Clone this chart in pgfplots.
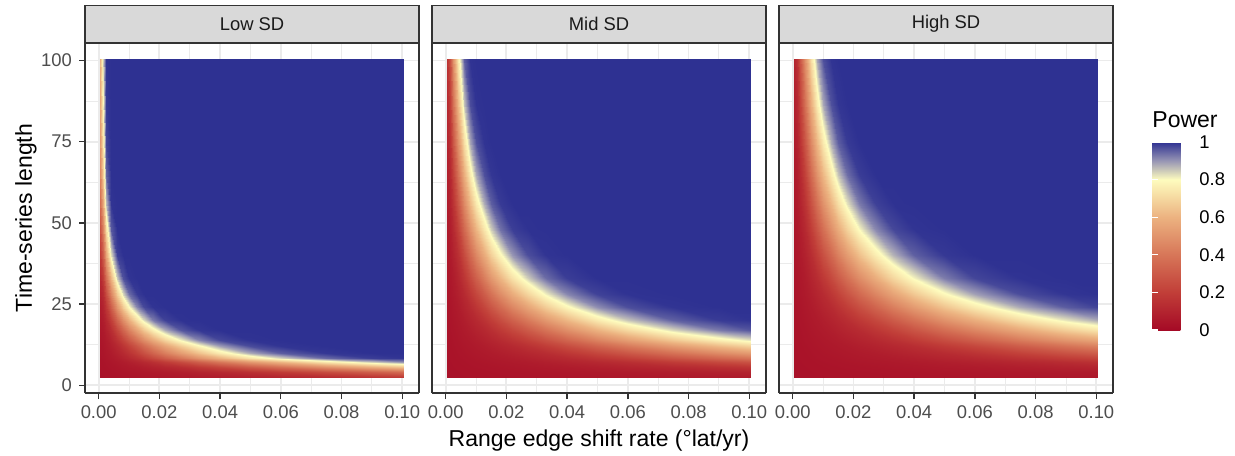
\documentclass[border=0pt]{standalone}
\usepackage{fontspec}
\setmainfont{Liberation Sans}
\usepackage{pgfplots}
\usepackage{pgfplotstable}
\pgfplotsset{compat=1.18}

\definecolor{grey10}{HTML}{1A1A1A}
\definecolor{grey20}{HTML}{333333}
\definecolor{grey30}{HTML}{4D4D4D}
\definecolor{grey85}{HTML}{D9D9D9}
\definecolor{grey92}{HTML}{EBEBEB}

\pgfplotsset{
  colormap={powermap}{rgb255(0cm)=(165,10,38) rgb255(2cm)=(193,62,56) rgb255(4cm)=(215,118,88)
    rgb255(6cm)=(236,178,128) rgb255(8cm)=(254,252,190) rgb255(9cm)=(152,150,180) rgb255(10cm)=(46,49,146)},
  /pgf/number format/assume math mode=true,
  panelbox/.style={
    at={#1}, anchor=south west,
    scale only axis, width=167pt, height=175pt,
    xmin=-0.0045, xmax=0.1055, ymin=-2.4, ymax=105.4,
    xtick={0,0.02,0.04,0.06,0.08,0.1},
    ytick={0,25,50,75,100},
  },
  % background panel: only the grid
  gridpanel/.style={
    panelbox={#1},
    minor xtick={0.01,0.03,0.05,0.07,0.09},
    minor ytick={12.5,37.5,62.5,87.5},
    xmajorgrids, ymajorgrids, xminorgrids, yminorgrids,
    major grid style={grey92, line width=0.9pt},
    minor grid style={grey92, line width=0.45pt},
    axis line style={draw=none}, tick style={draw=none},
    major tick length=0pt, minor tick length=0pt,
    xticklabels={}, yticklabels={},
  },
  % foreground panel: heat map, border, ticks and strip
  heatpanel/.style={
    panelbox={#1},
    view={0}{90}, zmin=0, zmax=1, ztick=\empty,
    point meta min=0, point meta max=1,
    colormap name=powermap,
    axis line style={grey20, line width=0.65pt},
    tick align=outside,
    major tick length=3pt,
    major tick style={grey20, line width=0.65pt},
    xtick pos=left, ytick pos=left,
    tick label style={font=\fontsize{9.2}{11}\selectfont, text=grey30},
    xticklabel style={/pgf/number format/fixed, /pgf/number format/fixed zerofill,
      /pgf/number format/precision=2},
    every axis title/.style={at={(axis description cs:0.5,1)}, anchor=south, fill=grey85, draw=grey20,
      line width=0.65pt, minimum width=167pt, minimum height=18.5pt, inner sep=0pt,
      font=\fontsize{9.2}{11}\selectfont, text=grey10},
  },
  heat/.style={surf, shader=interp, mesh/cols=19, point meta=\thisrow{p}},
}

% power on a grid of shift rate (x) by series length (y)
\pgfplotstableread[row sep=\\]{
x y p\\
0.0005 2.5 0.031\\ 0.0015 2.5 0.032\\ 0.0025 2.5 0.033\\ 0.004 2.5 0.034\\ 0.006 2.5 0.036\\ 0.008 2.5 0.038\\ 0.01 2.5 0.041\\ 0.0125 2.5 0.043\\ 0.015 2.5 0.046\\ 0.018 2.5 0.049\\ 0.022 2.5 0.053\\ 0.027 2.5 0.059\\ 0.033 2.5 0.065\\ 0.04 2.5 0.074\\ 0.05 2.5 0.089\\ 0.06 2.5 0.106\\ 0.075 2.5 0.129\\ 0.09 2.5 0.165\\ 0.1005 2.5 0.189\\
0.0005 4 0.032\\ 0.0015 4 0.033\\ 0.0025 4 0.034\\ 0.004 4 0.037\\ 0.006 4 0.041\\ 0.008 4 0.044\\ 0.01 4 0.048\\ 0.0125 4 0.052\\ 0.015 4 0.056\\ 0.018 4 0.062\\ 0.022 4 0.069\\ 0.027 4 0.081\\ 0.033 4 0.097\\ 0.04 4 0.116\\ 0.05 4 0.147\\ 0.06 4 0.187\\ 0.075 4 0.249\\ 0.09 4 0.315\\ 0.1005 4 0.359\\
0.0005 5.5 0.033\\ 0.0015 5.5 0.035\\ 0.0025 5.5 0.038\\ 0.004 5.5 0.042\\ 0.006 5.5 0.048\\ 0.008 5.5 0.055\\ 0.01 5.5 0.061\\ 0.0125 5.5 0.068\\ 0.015 5.5 0.079\\ 0.018 5.5 0.093\\ 0.022 5.5 0.111\\ 0.027 5.5 0.136\\ 0.033 5.5 0.178\\ 0.04 5.5 0.227\\ 0.05 5.5 0.304\\ 0.06 5.5 0.38\\ 0.075 5.5 0.488\\ 0.09 5.5 0.583\\ 0.1005 5.5 0.644\\
0.0005 7 0.035\\ 0.0015 7 0.037\\ 0.0025 7 0.042\\ 0.004 7 0.049\\ 0.006 7 0.059\\ 0.008 7 0.068\\ 0.01 7 0.082\\ 0.0125 7 0.10\\ 0.015 7 0.118\\ 0.018 7 0.144\\ 0.022 7 0.187\\ 0.027 7 0.244\\ 0.033 7 0.316\\ 0.04 7 0.40\\ 0.05 7 0.51\\ 0.06 7 0.605\\ 0.075 7 0.74\\ 0.09 7 0.843\\ 0.1005 7 0.90\\
0.0005 8.5 0.037\\ 0.0015 8.5 0.041\\ 0.0025 8.5 0.048\\ 0.004 8.5 0.058\\ 0.006 8.5 0.074\\ 0.008 8.5 0.095\\ 0.01 8.5 0.117\\ 0.0125 8.5 0.15\\ 0.015 8.5 0.19\\ 0.018 8.5 0.24\\ 0.022 8.5 0.311\\ 0.027 8.5 0.40\\ 0.033 8.5 0.498\\ 0.04 8.5 0.599\\ 0.05 8.5 0.733\\ 0.06 8.5 0.837\\ 0.075 8.5 0.944\\ 0.09 8.5 0.988\\ 0.1005 8.5 0.996\\
0.0005 10 0.039\\ 0.0015 10 0.044\\ 0.0025 10 0.053\\ 0.004 10 0.067\\ 0.006 10 0.093\\ 0.008 10 0.121\\ 0.01 10 0.158\\ 0.0125 10 0.21\\ 0.015 10 0.266\\ 0.018 10 0.336\\ 0.022 10 0.427\\ 0.027 10 0.529\\ 0.033 10 0.64\\ 0.04 10 0.754\\ 0.05 10 0.88\\ 0.06 10 0.956\\ 0.075 10 0.994\\ 0.09 10 1\\ 0.1005 10 1\\
0.0005 12 0.042\\ 0.0015 12 0.048\\ 0.0025 12 0.06\\ 0.004 12 0.081\\ 0.006 12 0.116\\ 0.008 12 0.162\\ 0.01 12 0.215\\ 0.0125 12 0.289\\ 0.015 12 0.362\\ 0.018 12 0.448\\ 0.022 12 0.549\\ 0.027 12 0.667\\ 0.033 12 0.784\\ 0.04 12 0.891\\ 0.05 12 0.973\\ 0.06 12 0.996\\ 0.075 12 1\\ 0.09 12 1\\ 0.1005 12 1\\
0.0005 14 0.045\\ 0.0015 14 0.053\\ 0.0025 14 0.068\\ 0.004 14 0.10\\ 0.006 14 0.154\\ 0.008 14 0.222\\ 0.01 14 0.297\\ 0.0125 14 0.392\\ 0.015 14 0.48\\ 0.018 14 0.574\\ 0.022 14 0.691\\ 0.027 14 0.81\\ 0.033 14 0.916\\ 0.04 14 0.978\\ 0.05 14 0.998\\ 0.06 14 1\\ 0.075 14 1\\ 0.09 14 1\\ 0.1005 14 1\\
0.0005 17 0.051\\ 0.0015 17 0.061\\ 0.0025 17 0.089\\ 0.004 17 0.139\\ 0.006 17 0.235\\ 0.008 17 0.34\\ 0.01 17 0.442\\ 0.0125 17 0.555\\ 0.015 17 0.66\\ 0.018 17 0.767\\ 0.022 17 0.879\\ 0.027 17 0.963\\ 0.033 17 0.994\\ 0.04 17 1\\ 0.05 17 1\\ 0.06 17 1\\ 0.075 17 1\\ 0.09 17 1\\ 0.1005 17 1\\
0.0005 20 0.058\\ 0.0015 20 0.074\\ 0.0025 20 0.116\\ 0.004 20 0.205\\ 0.006 20 0.346\\ 0.008 20 0.481\\ 0.01 20 0.598\\ 0.0125 20 0.731\\ 0.015 20 0.835\\ 0.018 20 0.927\\ 0.022 20 0.984\\ 0.027 20 0.999\\ 0.033 20 1\\ 0.04 20 1\\ 0.05 20 1\\ 0.06 20 1\\ 0.075 20 1\\ 0.09 20 1\\ 0.1005 20 1\\
0.0005 24 0.07\\ 0.0015 24 0.10\\ 0.0025 24 0.174\\ 0.004 24 0.319\\ 0.006 24 0.509\\ 0.008 24 0.669\\ 0.01 24 0.799\\ 0.0125 24 0.917\\ 0.015 24 0.977\\ 0.018 24 0.997\\ 0.022 24 1\\ 0.027 24 1\\ 0.033 24 1\\ 0.04 24 1\\ 0.05 24 1\\ 0.06 24 1\\ 0.075 24 1\\ 0.09 24 1\\ 0.1005 24 1\\
0.0005 28 0.09\\ 0.0015 28 0.13\\ 0.0025 28 0.253\\ 0.004 28 0.449\\ 0.006 28 0.669\\ 0.008 28 0.836\\ 0.01 28 0.943\\ 0.0125 28 0.991\\ 0.015 28 1\\ 0.018 28 1\\ 0.022 28 1\\ 0.027 28 1\\ 0.033 28 1\\ 0.04 28 1\\ 0.05 28 1\\ 0.06 28 1\\ 0.075 28 1\\ 0.09 28 1\\ 0.1005 28 1\\
0.0005 33 0.119\\ 0.0015 33 0.195\\ 0.0025 33 0.374\\ 0.004 33 0.612\\ 0.006 33 0.85\\ 0.008 33 0.969\\ 0.01 33 0.997\\ 0.0125 33 1\\ 0.015 33 1\\ 0.018 33 1\\ 0.022 33 1\\ 0.027 33 1\\ 0.033 33 1\\ 0.04 33 1\\ 0.05 33 1\\ 0.06 33 1\\ 0.075 33 1\\ 0.09 33 1\\ 0.1005 33 1\\
0.0005 40 0.187\\ 0.0015 40 0.315\\ 0.0025 40 0.556\\ 0.004 40 0.829\\ 0.006 40 0.986\\ 0.008 40 1\\ 0.01 40 1\\ 0.0125 40 1\\ 0.015 40 1\\ 0.018 40 1\\ 0.022 40 1\\ 0.027 40 1\\ 0.033 40 1\\ 0.04 40 1\\ 0.05 40 1\\ 0.06 40 1\\ 0.075 40 1\\ 0.09 40 1\\ 0.1005 40 1\\
0.0005 48 0.271\\ 0.0015 48 0.444\\ 0.0025 48 0.724\\ 0.004 48 0.96\\ 0.006 48 1\\ 0.008 48 1\\ 0.01 48 1\\ 0.0125 48 1\\ 0.015 48 1\\ 0.018 48 1\\ 0.022 48 1\\ 0.027 48 1\\ 0.033 48 1\\ 0.04 48 1\\ 0.05 48 1\\ 0.06 48 1\\ 0.075 48 1\\ 0.09 48 1\\ 0.1005 48 1\\
0.0005 56 0.369\\ 0.0015 56 0.568\\ 0.0025 56 0.865\\ 0.004 56 0.997\\ 0.006 56 1\\ 0.008 56 1\\ 0.01 56 1\\ 0.0125 56 1\\ 0.015 56 1\\ 0.018 56 1\\ 0.022 56 1\\ 0.027 56 1\\ 0.033 56 1\\ 0.04 56 1\\ 0.05 56 1\\ 0.06 56 1\\ 0.075 56 1\\ 0.09 56 1\\ 0.1005 56 1\\
0.0005 65 0.457\\ 0.0015 65 0.678\\ 0.0025 65 0.948\\ 0.004 65 1\\ 0.006 65 1\\ 0.008 65 1\\ 0.01 65 1\\ 0.0125 65 1\\ 0.015 65 1\\ 0.018 65 1\\ 0.022 65 1\\ 0.027 65 1\\ 0.033 65 1\\ 0.04 65 1\\ 0.05 65 1\\ 0.06 65 1\\ 0.075 65 1\\ 0.09 65 1\\ 0.1005 65 1\\
0.0005 75 0.515\\ 0.0015 75 0.745\\ 0.0025 75 0.979\\ 0.004 75 1\\ 0.006 75 1\\ 0.008 75 1\\ 0.01 75 1\\ 0.0125 75 1\\ 0.015 75 1\\ 0.018 75 1\\ 0.022 75 1\\ 0.027 75 1\\ 0.033 75 1\\ 0.04 75 1\\ 0.05 75 1\\ 0.06 75 1\\ 0.075 75 1\\ 0.09 75 1\\ 0.1005 75 1\\
0.0005 87 0.563\\ 0.0015 87 0.80\\ 0.0025 87 0.991\\ 0.004 87 1\\ 0.006 87 1\\ 0.008 87 1\\ 0.01 87 1\\ 0.0125 87 1\\ 0.015 87 1\\ 0.018 87 1\\ 0.022 87 1\\ 0.027 87 1\\ 0.033 87 1\\ 0.04 87 1\\ 0.05 87 1\\ 0.06 87 1\\ 0.075 87 1\\ 0.09 87 1\\ 0.1005 87 1\\
0.0005 100.5 0.601\\ 0.0015 100.5 0.839\\ 0.0025 100.5 0.997\\ 0.004 100.5 1\\ 0.006 100.5 1\\ 0.008 100.5 1\\ 0.01 100.5 1\\ 0.0125 100.5 1\\ 0.015 100.5 1\\ 0.018 100.5 1\\ 0.022 100.5 1\\ 0.027 100.5 1\\ 0.033 100.5 1\\ 0.04 100.5 1\\ 0.05 100.5 1\\ 0.06 100.5 1\\ 0.075 100.5 1\\ 0.09 100.5 1\\ 0.1005 100.5 1\\
}\lowsd

\pgfplotstableread[row sep=\\]{
x y p\\
0.0005 2.5 0.03\\ 0.0015 2.5 0.031\\ 0.0025 2.5 0.031\\ 0.004 2.5 0.031\\ 0.006 2.5 0.032\\ 0.008 2.5 0.033\\ 0.01 2.5 0.034\\ 0.0125 2.5 0.035\\ 0.015 2.5 0.036\\ 0.018 2.5 0.037\\ 0.022 2.5 0.038\\ 0.027 2.5 0.04\\ 0.033 2.5 0.042\\ 0.04 2.5 0.045\\ 0.05 2.5 0.049\\ 0.06 2.5 0.052\\ 0.075 2.5 0.058\\ 0.09 2.5 0.064\\ 0.1005 2.5 0.067\\
0.0005 4 0.031\\ 0.0015 4 0.031\\ 0.0025 4 0.031\\ 0.004 4 0.032\\ 0.006 4 0.034\\ 0.008 4 0.035\\ 0.01 4 0.036\\ 0.0125 4 0.037\\ 0.015 4 0.039\\ 0.018 4 0.041\\ 0.022 4 0.043\\ 0.027 4 0.046\\ 0.033 4 0.049\\ 0.04 4 0.053\\ 0.05 4 0.059\\ 0.06 4 0.065\\ 0.075 4 0.076\\ 0.09 4 0.089\\ 0.1005 4 0.098\\
0.0005 5.5 0.031\\ 0.0015 5.5 0.031\\ 0.0025 5.5 0.032\\ 0.004 5.5 0.034\\ 0.006 5.5 0.036\\ 0.008 5.5 0.038\\ 0.01 5.5 0.04\\ 0.0125 5.5 0.042\\ 0.015 5.5 0.044\\ 0.018 5.5 0.047\\ 0.022 5.5 0.051\\ 0.027 5.5 0.056\\ 0.033 5.5 0.062\\ 0.04 5.5 0.069\\ 0.05 5.5 0.082\\ 0.06 5.5 0.097\\ 0.075 5.5 0.119\\ 0.09 5.5 0.145\\ 0.1005 5.5 0.167\\
0.0005 7 0.031\\ 0.0015 7 0.032\\ 0.0025 7 0.034\\ 0.004 7 0.036\\ 0.006 7 0.038\\ 0.008 7 0.041\\ 0.01 7 0.044\\ 0.0125 7 0.048\\ 0.015 7 0.051\\ 0.018 7 0.055\\ 0.022 7 0.061\\ 0.027 7 0.068\\ 0.033 7 0.08\\ 0.04 7 0.095\\ 0.05 7 0.116\\ 0.06 7 0.14\\ 0.075 7 0.188\\ 0.09 7 0.237\\ 0.1005 7 0.272\\
0.0005 8.5 0.032\\ 0.0015 8.5 0.033\\ 0.0025 8.5 0.035\\ 0.004 8.5 0.038\\ 0.006 8.5 0.041\\ 0.008 8.5 0.045\\ 0.01 8.5 0.049\\ 0.0125 8.5 0.054\\ 0.015 8.5 0.059\\ 0.018 8.5 0.064\\ 0.022 8.5 0.073\\ 0.027 8.5 0.087\\ 0.033 8.5 0.105\\ 0.04 8.5 0.125\\ 0.05 8.5 0.165\\ 0.06 8.5 0.208\\ 0.075 8.5 0.279\\ 0.09 8.5 0.35\\ 0.1005 8.5 0.398\\
0.0005 10 0.032\\ 0.0015 10 0.034\\ 0.0025 10 0.036\\ 0.004 10 0.04\\ 0.006 10 0.045\\ 0.008 10 0.05\\ 0.01 10 0.055\\ 0.0125 10 0.061\\ 0.015 10 0.067\\ 0.018 10 0.077\\ 0.022 10 0.091\\ 0.027 10 0.11\\ 0.033 10 0.133\\ 0.04 10 0.172\\ 0.05 10 0.229\\ 0.06 10 0.29\\ 0.075 10 0.383\\ 0.09 10 0.47\\ 0.1005 10 0.524\\
0.0005 12 0.033\\ 0.0015 12 0.035\\ 0.0025 12 0.038\\ 0.004 12 0.043\\ 0.006 12 0.05\\ 0.008 12 0.056\\ 0.01 12 0.063\\ 0.0125 12 0.072\\ 0.015 12 0.084\\ 0.018 12 0.099\\ 0.022 12 0.118\\ 0.027 12 0.15\\ 0.033 12 0.194\\ 0.04 12 0.249\\ 0.05 12 0.331\\ 0.06 12 0.413\\ 0.075 12 0.523\\ 0.09 12 0.621\\ 0.1005 12 0.685\\
0.0005 14 0.034\\ 0.0015 14 0.036\\ 0.0025 14 0.04\\ 0.004 14 0.047\\ 0.006 14 0.055\\ 0.008 14 0.063\\ 0.01 14 0.073\\ 0.0125 14 0.088\\ 0.015 14 0.104\\ 0.018 14 0.125\\ 0.022 14 0.157\\ 0.027 14 0.204\\ 0.033 14 0.265\\ 0.04 14 0.339\\ 0.05 14 0.441\\ 0.06 14 0.533\\ 0.075 14 0.658\\ 0.09 14 0.765\\ 0.1005 14 0.826\\
0.0005 17 0.036\\ 0.0015 17 0.039\\ 0.0025 17 0.044\\ 0.004 17 0.053\\ 0.006 17 0.064\\ 0.008 17 0.078\\ 0.01 17 0.095\\ 0.0125 17 0.116\\ 0.015 17 0.142\\ 0.018 17 0.18\\ 0.022 17 0.232\\ 0.027 17 0.303\\ 0.033 17 0.389\\ 0.04 17 0.481\\ 0.05 17 0.598\\ 0.06 17 0.706\\ 0.075 17 0.835\\ 0.09 17 0.927\\ 0.1005 17 0.963\\
0.0005 20 0.037\\ 0.0015 20 0.041\\ 0.0025 20 0.048\\ 0.004 20 0.059\\ 0.006 20 0.076\\ 0.008 20 0.098\\ 0.01 20 0.12\\ 0.0125 20 0.156\\ 0.015 20 0.197\\ 0.018 20 0.25\\ 0.022 20 0.323\\ 0.027 20 0.415\\ 0.033 20 0.514\\ 0.04 20 0.616\\ 0.05 20 0.75\\ 0.06 20 0.855\\ 0.075 20 0.953\\ 0.09 20 0.99\\ 0.1005 20 0.997\\
0.0005 24 0.04\\ 0.0015 24 0.045\\ 0.0025 24 0.054\\ 0.004 24 0.069\\ 0.006 24 0.098\\ 0.008 24 0.127\\ 0.01 24 0.169\\ 0.0125 24 0.225\\ 0.015 24 0.286\\ 0.018 24 0.359\\ 0.022 24 0.453\\ 0.027 24 0.557\\ 0.033 24 0.674\\ 0.04 24 0.785\\ 0.05 24 0.907\\ 0.06 24 0.971\\ 0.075 24 0.997\\ 0.09 24 1\\ 0.1005 24 1\\
0.0005 28 0.042\\ 0.0015 28 0.049\\ 0.0025 28 0.061\\ 0.004 28 0.085\\ 0.006 28 0.122\\ 0.008 28 0.174\\ 0.01 28 0.231\\ 0.0125 28 0.308\\ 0.015 28 0.386\\ 0.018 28 0.473\\ 0.022 28 0.577\\ 0.027 28 0.697\\ 0.033 28 0.814\\ 0.04 28 0.915\\ 0.05 28 0.983\\ 0.06 28 0.998\\ 0.075 28 1\\ 0.09 28 1\\ 0.1005 28 1\\
0.0005 33 0.046\\ 0.0015 33 0.054\\ 0.0025 33 0.07\\ 0.004 33 0.106\\ 0.006 33 0.167\\ 0.008 33 0.242\\ 0.01 33 0.322\\ 0.0125 33 0.422\\ 0.015 33 0.513\\ 0.018 33 0.609\\ 0.022 33 0.729\\ 0.027 33 0.847\\ 0.033 33 0.942\\ 0.04 33 0.988\\ 0.05 33 1\\ 0.06 33 1\\ 0.075 33 1\\ 0.09 33 1\\ 0.1005 33 1\\
0.0005 40 0.052\\ 0.0015 40 0.063\\ 0.0025 40 0.092\\ 0.004 40 0.146\\ 0.006 40 0.246\\ 0.008 40 0.355\\ 0.01 40 0.459\\ 0.0125 40 0.574\\ 0.015 40 0.681\\ 0.018 40 0.787\\ 0.022 40 0.899\\ 0.027 40 0.972\\ 0.033 40 0.997\\ 0.04 40 1\\ 0.05 40 1\\ 0.06 40 1\\ 0.075 40 1\\ 0.09 40 1\\ 0.1005 40 1\\
0.0005 48 0.059\\ 0.0015 48 0.075\\ 0.0025 48 0.119\\ 0.004 48 0.211\\ 0.006 48 0.355\\ 0.008 48 0.485\\ 0.01 48 0.609\\ 0.0125 48 0.743\\ 0.015 48 0.847\\ 0.018 48 0.936\\ 0.022 48 0.987\\ 0.027 48 0.999\\ 0.033 48 1\\ 0.04 48 1\\ 0.05 48 1\\ 0.06 48 1\\ 0.075 48 1\\ 0.09 48 1\\ 0.1005 48 1\\
0.0005 56 0.067\\ 0.0015 56 0.093\\ 0.0025 56 0.158\\ 0.004 56 0.289\\ 0.006 56 0.468\\ 0.008 56 0.621\\ 0.01 56 0.754\\ 0.0125 56 0.879\\ 0.015 56 0.956\\ 0.018 56 0.991\\ 0.022 56 1\\ 0.027 56 1\\ 0.033 56 1\\ 0.04 56 1\\ 0.05 56 1\\ 0.06 56 1\\ 0.075 56 1\\ 0.09 56 1\\ 0.1005 56 1\\
0.0005 65 0.08\\ 0.0015 65 0.115\\ 0.0025 65 0.212\\ 0.004 65 0.386\\ 0.006 65 0.59\\ 0.008 65 0.76\\ 0.01 65 0.885\\ 0.0125 65 0.97\\ 0.015 65 0.995\\ 0.018 65 1\\ 0.022 65 1\\ 0.027 65 1\\ 0.033 65 1\\ 0.04 65 1\\ 0.05 65 1\\ 0.06 65 1\\ 0.075 65 1\\ 0.09 65 1\\ 0.1005 65 1\\
0.0005 75 0.098\\ 0.0015 75 0.147\\ 0.0025 75 0.285\\ 0.004 75 0.495\\ 0.006 75 0.723\\ 0.008 75 0.886\\ 0.01 75 0.97\\ 0.0125 75 0.997\\ 0.015 75 1\\ 0.018 75 1\\ 0.022 75 1\\ 0.027 75 1\\ 0.033 75 1\\ 0.04 75 1\\ 0.05 75 1\\ 0.06 75 1\\ 0.075 75 1\\ 0.09 75 1\\ 0.1005 75 1\\
0.0005 87 0.12\\ 0.0015 87 0.199\\ 0.0025 87 0.381\\ 0.004 87 0.62\\ 0.006 87 0.858\\ 0.008 87 0.973\\ 0.01 87 0.998\\ 0.0125 87 1\\ 0.015 87 1\\ 0.018 87 1\\ 0.022 87 1\\ 0.027 87 1\\ 0.033 87 1\\ 0.04 87 1\\ 0.05 87 1\\ 0.06 87 1\\ 0.075 87 1\\ 0.09 87 1\\ 0.1005 87 1\\
0.0005 100.5 0.156\\ 0.0015 100.5 0.264\\ 0.0025 100.5 0.486\\ 0.004 100.5 0.75\\ 0.006 100.5 0.954\\ 0.008 100.5 0.998\\ 0.01 100.5 1\\ 0.0125 100.5 1\\ 0.015 100.5 1\\ 0.018 100.5 1\\ 0.022 100.5 1\\ 0.027 100.5 1\\ 0.033 100.5 1\\ 0.04 100.5 1\\ 0.05 100.5 1\\ 0.06 100.5 1\\ 0.075 100.5 1\\ 0.09 100.5 1\\ 0.1005 100.5 1\\
}\midsd

\pgfplotstableread[row sep=\\]{
x y p\\
0.0005 2.5 0.03\\ 0.0015 2.5 0.03\\ 0.0025 2.5 0.031\\ 0.004 2.5 0.031\\ 0.006 2.5 0.031\\ 0.008 2.5 0.032\\ 0.01 2.5 0.032\\ 0.0125 2.5 0.033\\ 0.015 2.5 0.034\\ 0.018 2.5 0.034\\ 0.022 2.5 0.035\\ 0.027 2.5 0.036\\ 0.033 2.5 0.038\\ 0.04 2.5 0.039\\ 0.05 2.5 0.042\\ 0.06 2.5 0.044\\ 0.075 2.5 0.048\\ 0.09 2.5 0.051\\ 0.1005 2.5 0.054\\
0.0005 4 0.03\\ 0.0015 4 0.031\\ 0.0025 4 0.031\\ 0.004 4 0.031\\ 0.006 4 0.032\\ 0.008 4 0.033\\ 0.01 4 0.034\\ 0.0125 4 0.035\\ 0.015 4 0.036\\ 0.018 4 0.037\\ 0.022 4 0.038\\ 0.027 4 0.04\\ 0.033 4 0.042\\ 0.04 4 0.045\\ 0.05 4 0.049\\ 0.06 4 0.052\\ 0.075 4 0.058\\ 0.09 4 0.063\\ 0.1005 4 0.067\\
0.0005 5.5 0.031\\ 0.0015 5.5 0.031\\ 0.0025 5.5 0.032\\ 0.004 5.5 0.032\\ 0.006 5.5 0.034\\ 0.008 5.5 0.035\\ 0.01 5.5 0.036\\ 0.0125 5.5 0.038\\ 0.015 5.5 0.039\\ 0.018 5.5 0.041\\ 0.022 5.5 0.043\\ 0.027 5.5 0.046\\ 0.033 5.5 0.05\\ 0.04 5.5 0.054\\ 0.05 5.5 0.061\\ 0.06 5.5 0.067\\ 0.075 5.5 0.079\\ 0.09 5.5 0.092\\ 0.1005 5.5 0.101\\
0.0005 7 0.031\\ 0.0015 7 0.031\\ 0.0025 7 0.032\\ 0.004 7 0.034\\ 0.006 7 0.035\\ 0.008 7 0.037\\ 0.01 7 0.039\\ 0.0125 7 0.041\\ 0.015 7 0.043\\ 0.018 7 0.046\\ 0.022 7 0.05\\ 0.027 7 0.054\\ 0.033 7 0.059\\ 0.04 7 0.066\\ 0.05 7 0.077\\ 0.06 7 0.09\\ 0.075 7 0.11\\ 0.09 7 0.131\\ 0.1005 7 0.151\\
0.0005 8.5 0.031\\ 0.0015 8.5 0.032\\ 0.0025 8.5 0.033\\ 0.004 8.5 0.035\\ 0.006 8.5 0.037\\ 0.008 8.5 0.04\\ 0.01 8.5 0.042\\ 0.0125 8.5 0.045\\ 0.015 8.5 0.048\\ 0.018 8.5 0.052\\ 0.022 8.5 0.057\\ 0.027 8.5 0.063\\ 0.033 8.5 0.07\\ 0.04 8.5 0.082\\ 0.05 8.5 0.101\\ 0.06 8.5 0.119\\ 0.075 8.5 0.154\\ 0.09 8.5 0.195\\ 0.1005 8.5 0.222\\
0.0005 10 0.032\\ 0.0015 10 0.032\\ 0.0025 10 0.034\\ 0.004 10 0.036\\ 0.006 10 0.039\\ 0.008 10 0.042\\ 0.01 10 0.046\\ 0.0125 10 0.05\\ 0.015 10 0.053\\ 0.018 10 0.058\\ 0.022 10 0.064\\ 0.027 10 0.073\\ 0.033 10 0.087\\ 0.04 10 0.104\\ 0.05 10 0.127\\ 0.06 10 0.16\\ 0.075 10 0.213\\ 0.09 10 0.271\\ 0.1005 10 0.31\\
0.0005 12 0.032\\ 0.0015 12 0.033\\ 0.0025 12 0.035\\ 0.004 12 0.038\\ 0.006 12 0.042\\ 0.008 12 0.047\\ 0.01 12 0.051\\ 0.0125 12 0.056\\ 0.015 12 0.061\\ 0.018 12 0.067\\ 0.022 12 0.079\\ 0.027 12 0.094\\ 0.033 12 0.113\\ 0.04 12 0.137\\ 0.05 12 0.184\\ 0.06 12 0.231\\ 0.075 12 0.309\\ 0.09 12 0.387\\ 0.1005 12 0.437\\
0.0005 14 0.033\\ 0.0015 14 0.034\\ 0.0025 14 0.037\\ 0.004 14 0.041\\ 0.006 14 0.046\\ 0.008 14 0.051\\ 0.01 14 0.056\\ 0.0125 14 0.063\\ 0.015 14 0.07\\ 0.018 14 0.081\\ 0.022 14 0.097\\ 0.027 14 0.117\\ 0.033 14 0.146\\ 0.04 14 0.188\\ 0.05 14 0.251\\ 0.06 14 0.317\\ 0.075 14 0.416\\ 0.09 14 0.506\\ 0.1005 14 0.559\\
0.0005 17 0.034\\ 0.0015 17 0.035\\ 0.0025 17 0.039\\ 0.004 17 0.044\\ 0.006 17 0.052\\ 0.008 17 0.059\\ 0.01 17 0.066\\ 0.0125 17 0.077\\ 0.015 17 0.091\\ 0.018 17 0.107\\ 0.022 17 0.128\\ 0.027 17 0.168\\ 0.033 17 0.216\\ 0.04 17 0.279\\ 0.05 17 0.369\\ 0.06 17 0.454\\ 0.075 17 0.568\\ 0.09 17 0.675\\ 0.1005 17 0.738\\
0.0005 20 0.035\\ 0.0015 20 0.037\\ 0.0025 20 0.042\\ 0.004 20 0.049\\ 0.006 20 0.058\\ 0.008 20 0.067\\ 0.01 20 0.079\\ 0.0125 20 0.097\\ 0.015 20 0.114\\ 0.018 20 0.138\\ 0.022 20 0.179\\ 0.027 20 0.232\\ 0.033 20 0.302\\ 0.04 20 0.383\\ 0.05 20 0.491\\ 0.06 20 0.586\\ 0.075 20 0.718\\ 0.09 20 0.823\\ 0.1005 20 0.881\\
0.0005 24 0.036\\ 0.0015 24 0.039\\ 0.0025 24 0.045\\ 0.004 24 0.055\\ 0.006 24 0.067\\ 0.008 24 0.084\\ 0.01 24 0.103\\ 0.0125 24 0.126\\ 0.015 24 0.158\\ 0.018 24 0.2\\ 0.022 24 0.259\\ 0.027 24 0.336\\ 0.033 24 0.428\\ 0.04 24 0.523\\ 0.05 24 0.647\\ 0.06 24 0.755\\ 0.075 24 0.88\\ 0.09 24 0.957\\ 0.1005 24 0.982\\
0.0005 28 0.038\\ 0.0015 28 0.042\\ 0.0025 28 0.05\\ 0.004 28 0.061\\ 0.006 28 0.081\\ 0.008 28 0.104\\ 0.01 28 0.128\\ 0.0125 28 0.171\\ 0.015 28 0.215\\ 0.018 28 0.274\\ 0.022 28 0.352\\ 0.027 28 0.447\\ 0.033 28 0.549\\ 0.04 28 0.659\\ 0.05 28 0.789\\ 0.06 28 0.89\\ 0.075 28 0.973\\ 0.09 28 0.996\\ 0.1005 28 0.999\\
0.0005 33 0.04\\ 0.0015 33 0.045\\ 0.0025 33 0.055\\ 0.004 33 0.071\\ 0.006 33 0.101\\ 0.008 33 0.133\\ 0.01 33 0.179\\ 0.0125 33 0.238\\ 0.015 33 0.301\\ 0.018 33 0.378\\ 0.022 33 0.473\\ 0.027 33 0.579\\ 0.033 33 0.698\\ 0.04 33 0.809\\ 0.05 33 0.925\\ 0.06 33 0.98\\ 0.075 33 0.998\\ 0.09 33 1\\ 0.1005 33 1\\
0.0005 40 0.044\\ 0.0015 40 0.051\\ 0.0025 40 0.064\\ 0.004 40 0.092\\ 0.006 40 0.136\\ 0.008 40 0.197\\ 0.01 40 0.264\\ 0.0125 40 0.35\\ 0.015 40 0.434\\ 0.018 40 0.525\\ 0.022 40 0.635\\ 0.027 40 0.757\\ 0.033 40 0.871\\ 0.04 40 0.954\\ 0.05 40 0.993\\ 0.06 40 1\\ 0.075 40 1\\ 0.09 40 1\\ 0.1005 40 1\\
0.0005 48 0.048\\ 0.0015 48 0.057\\ 0.0025 48 0.079\\ 0.004 48 0.12\\ 0.006 48 0.197\\ 0.008 48 0.286\\ 0.01 48 0.378\\ 0.0125 48 0.485\\ 0.015 48 0.579\\ 0.018 48 0.687\\ 0.022 48 0.804\\ 0.027 48 0.913\\ 0.033 48 0.978\\ 0.04 48 0.997\\ 0.05 48 1\\ 0.06 48 1\\ 0.075 48 1\\ 0.09 48 1\\ 0.1005 48 1\\
0.0005 56 0.053\\ 0.0015 56 0.065\\ 0.0025 56 0.097\\ 0.004 56 0.16\\ 0.006 56 0.27\\ 0.008 56 0.386\\ 0.01 56 0.495\\ 0.0125 56 0.613\\ 0.015 56 0.722\\ 0.018 56 0.827\\ 0.022 56 0.929\\ 0.027 56 0.985\\ 0.033 56 0.999\\ 0.04 56 1\\ 0.05 56 1\\ 0.06 56 1\\ 0.075 56 1\\ 0.09 56 1\\ 0.1005 56 1\\
0.0005 65 0.059\\ 0.0015 65 0.076\\ 0.0025 65 0.121\\ 0.004 65 0.215\\ 0.006 65 0.362\\ 0.008 65 0.50\\ 0.01 65 0.619\\ 0.0125 65 0.753\\ 0.015 65 0.857\\ 0.018 65 0.941\\ 0.022 65 0.989\\ 0.027 65 1\\ 0.033 65 1\\ 0.04 65 1\\ 0.05 65 1\\ 0.06 65 1\\ 0.075 65 1\\ 0.09 65 1\\ 0.1005 65 1\\
0.0005 75 0.067\\ 0.0015 75 0.093\\ 0.0025 75 0.158\\ 0.004 75 0.289\\ 0.006 75 0.468\\ 0.008 75 0.621\\ 0.01 75 0.754\\ 0.0125 75 0.879\\ 0.015 75 0.956\\ 0.018 75 0.991\\ 0.022 75 1\\ 0.027 75 1\\ 0.033 75 1\\ 0.04 75 1\\ 0.05 75 1\\ 0.06 75 1\\ 0.075 75 1\\ 0.09 75 1\\ 0.1005 75 1\\
0.0005 87 0.08\\ 0.0015 87 0.115\\ 0.0025 87 0.212\\ 0.004 87 0.386\\ 0.006 87 0.59\\ 0.008 87 0.76\\ 0.01 87 0.885\\ 0.0125 87 0.97\\ 0.015 87 0.995\\ 0.018 87 1\\ 0.022 87 1\\ 0.027 87 1\\ 0.033 87 1\\ 0.04 87 1\\ 0.05 87 1\\ 0.06 87 1\\ 0.075 87 1\\ 0.09 87 1\\ 0.1005 87 1\\
0.0005 100.5 0.098\\ 0.0015 100.5 0.147\\ 0.0025 100.5 0.284\\ 0.004 100.5 0.494\\ 0.006 100.5 0.72\\ 0.008 100.5 0.885\\ 0.01 100.5 0.97\\ 0.0125 100.5 0.997\\ 0.015 100.5 1\\ 0.018 100.5 1\\ 0.022 100.5 1\\ 0.027 100.5 1\\ 0.033 100.5 1\\ 0.04 100.5 1\\ 0.05 100.5 1\\ 0.06 100.5 1\\ 0.075 100.5 1\\ 0.09 100.5 1\\ 0.1005 100.5 1\\
}\highsd

\begin{document}
\begin{tikzpicture}

% grids first, so the heat maps cover them
\begin{axis}[gridpanel={(42.5pt,31pt)}]
\end{axis}
\begin{axis}[gridpanel={(216pt,31pt)}]
\end{axis}
\begin{axis}[gridpanel={(389.5pt,31pt)}]
\end{axis}

\begin{axis}[heatpanel={(42.5pt,31pt)}, title={Low SD}]
  \addplot3[heat] table[x=x, y=y, z=p] {\lowsd};
\end{axis}

\begin{axis}[heatpanel={(216pt,31pt)}, title={Mid SD},
    yticklabels={}, ytick style={draw=none}]
  \addplot3[heat] table[x=x, y=y, z=p] {\midsd};
\end{axis}

\begin{axis}[heatpanel={(389.5pt,31pt)}, title={High SD},
    yticklabels={}, ytick style={draw=none},
    colorbar,
    colorbar style={
      at={(1.1168,0.18)}, anchor=south west,
      scale only axis, width=18.5pt, height=94pt,
      title={},
      xtick=\empty,
      ytick={0,0.2,0.4,0.6,0.8,1},
      ytick pos=both, yticklabel pos=right,
      tick align=inside, major tick length=3pt,
      major tick style={white, line width=0.6pt},
      axis line style={draw=none},
      yticklabel style={font=\fontsize{9.2}{11}\selectfont, text=black, inner sep=0pt, xshift=5pt},
    }]
  \addplot3[heat] table[x=x, y=y, z=p] {\highsd};
\end{axis}

\node[rotate=90, anchor=base, font=\fontsize{11.5}{13}\selectfont] at (16pt,118.5pt) {Time-series length};
\node[anchor=base, font=\fontsize{11.5}{13}\selectfont] at (299.5pt,4.5pt) {Range edge shift rate (°lat/yr)};
\node[anchor=base west, inner sep=0pt, font=\fontsize{11.5}{13}\selectfont] at (576pt,163.5pt) {Power};

\pgfresetboundingbox
\useasboundingbox (0,0) rectangle (617.5pt,227.5pt);
\end{tikzpicture}
\end{document}
